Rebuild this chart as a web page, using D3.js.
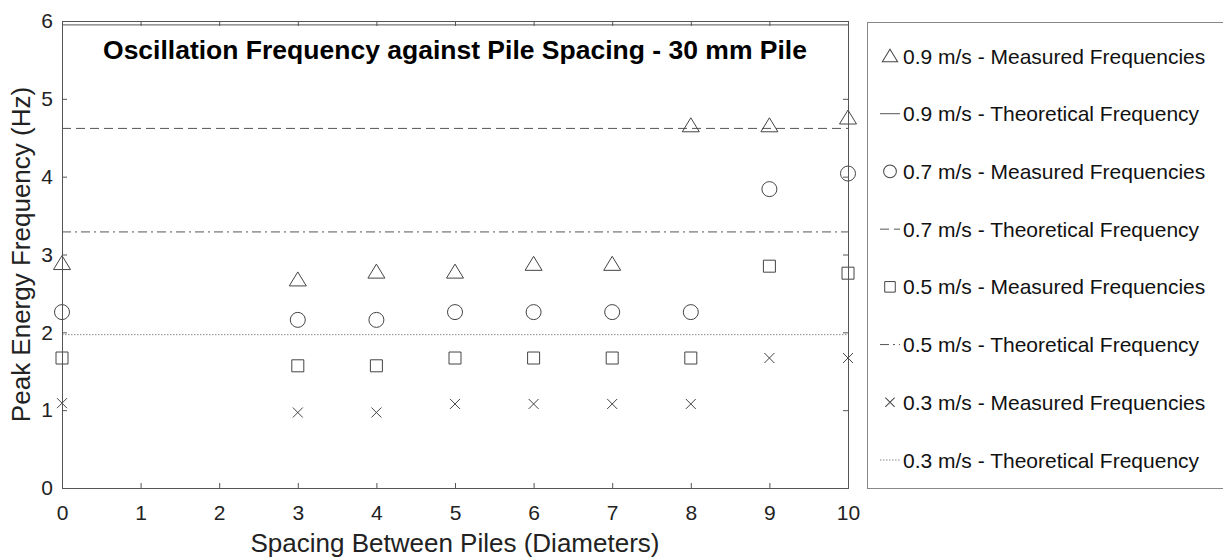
<!DOCTYPE html>
<html><head><meta charset="utf-8">
<script src="https://cdn.jsdelivr.net/npm/d3@7"></script>
<style>
html,body{margin:0;padding:0;background:#fff;}
svg{display:block;}
text{font-family:Arial,"Liberation Sans",Helvetica,sans-serif;}
</style></head>
<body><svg id="c" width="1223" height="558"></svg>
<script>
const spacing = [0, 3, 4, 5, 6, 7, 8, 9, 10];
const measured09 = [2.89, 2.68, 2.78, 2.78, 2.88, 2.88, 4.66, 4.66, 4.76];
const measured07 = [2.26, 2.16, 2.16, 2.26, 2.26, 2.26, 2.26, 3.84, 4.04];
const measured05 = [1.67, 1.57, 1.57, 1.67, 1.67, 1.67, 1.67, 2.85, 2.76];
const measured03 = [1.09, 0.97, 0.97, 1.08, 1.08, 1.08, 1.08, 1.67, 1.67];
const theoretical = [5.95, 4.62, 3.29, 1.97];
const xTicks = [0,1,2,3,4,5,6,7,8,9,10];
const yTicks = [0,1,2,3,4,5,6];
const legendLabels = [
  "0.9 m/s - Measured Frequencies","0.9 m/s - Theoretical Frequency",
  "0.7 m/s - Measured Frequencies","0.7 m/s - Theoretical Frequency",
  "0.5 m/s - Measured Frequencies","0.5 m/s - Theoretical Frequency",
  "0.3 m/s - Measured Frequencies","0.3 m/s - Theoretical Frequency"];
const titleText = "Oscillation Frequency against Pile Spacing - 30 mm Pile";

const svg = d3.select("#c");
const L=62, R=848, T=21, B=488;
const x = d3.scaleLinear().domain([0,10]).range([L,R]);
const y = d3.scaleLinear().domain([0,6]).range([B,T]);
const axisCol = "#555", markCol="#444";

function markerPath(type){
  const p = d3.path();
  if(type==="tri"){ p.moveTo(0,-7.5); p.lineTo(8.5,6.5); p.lineTo(-8.5,6.5); p.closePath(); }
  else if(type==="circ"){ p.moveTo(7.5,0); p.arc(0,0,7.5,0,2*Math.PI); }
  else if(type==="sq"){ p.rect(-6,-6,12,12); }
  else if(type==="x"){ p.moveTo(-5,-5); p.lineTo(5,5); p.moveTo(5,-5); p.lineTo(-5,5); }
  return p.toString();
}
const dashes = [null, "9,5", "9,4,2,4", "1.5,1.5"];

const plot = svg.append("g");
theoretical.forEach((v,i)=>{
  plot.append("line").attr("x1",x(0)).attr("x2",x(10)).attr("y1",y(v)).attr("y2",y(v))
    .attr("stroke", i===3?"#888":"#555").attr("stroke-width",1)
    .attr("stroke-dasharray", dashes[i]);
});
const series = [[measured09,"tri"],[measured07,"circ"],[measured05,"sq"],[measured03,"x"]];
series.forEach(([vals,type])=>{
  plot.selectAll(null).data(vals).enter().append("path")
    .attr("d", markerPath(type))
    .attr("transform",(d,i)=>`translate(${x(spacing[i])},${y(d)})`)
    .attr("fill","none").attr("stroke",markCol).attr("stroke-width",1);
});

const tl=5;
const gx = svg.append("g").attr("transform",`translate(0,${B})`)
  .call(d3.axisBottom(x).tickValues(xTicks).tickSize(-tl).tickPadding(17).tickFormat(d3.format("d")));
const gxt = svg.append("g").attr("transform",`translate(0,${T})`)
  .call(d3.axisTop(x).tickValues(xTicks).tickSize(-tl).tickFormat(""));
const gy = svg.append("g").attr("transform",`translate(${L},0)`)
  .call(d3.axisLeft(y).tickValues(yTicks).tickSize(-tl).tickPadding(9).tickFormat(d3.format("d")));
const gyr = svg.append("g").attr("transform",`translate(${R},0)`)
  .call(d3.axisRight(y).tickValues(yTicks).tickSize(-tl).tickFormat(""));
[gx,gxt,gy,gyr].forEach(g=>{
  g.select(".domain").attr("stroke",axisCol);
  g.selectAll(".tick line").attr("stroke",axisCol);
  g.selectAll("text").attr("font-size",21).attr("fill","#222")
   .attr("font-family","Arial, 'Liberation Sans', sans-serif");
});
gx.selectAll(".tick text").attr("dy","0.71em");

svg.append("text").attr("x",(L+R)/2).attr("y",552).attr("text-anchor","middle")
  .attr("font-size",26).attr("fill","#222").text("Spacing Between Piles (Diameters)");
svg.append("text").attr("transform",`translate(29.5,${(T+B)/2}) rotate(-90)`)
  .attr("text-anchor","middle").attr("font-size",26).attr("fill","#222")
  .text("Peak Energy Frequency (Hz)");
svg.append("text").attr("x",(L+R)/2).attr("y",59).attr("text-anchor","middle")
  .attr("font-size",26.5).attr("font-weight","bold").attr("fill","#000").text(titleText);

const lg = svg.append("g");
lg.append("rect").attr("x",867.5).attr("y",22.5).attr("width",360).attr("height",466)
  .attr("fill","#fff").attr("stroke","#888").attr("stroke-width",1);
const rowY = d3.scalePoint().domain(d3.range(8)).range([56,460]);
const legTypes = ["tri",0,"circ",1,"sq",2,"x",3];
legTypes.forEach((t,i)=>{
  const cy = rowY(i);
  if(typeof t==="string"){
    const s = t==="tri"?0.9:t==="circ"?0.85:t==="sq"?0.88:0.93;
    lg.append("path").attr("d",markerPath(t))
      .attr("transform",`translate(890,${cy}) scale(${s})`)
      .attr("fill","none").attr("stroke",markCol).attr("stroke-width",1/s);
  } else {
    lg.append("line").attr("x1",880).attr("x2",900).attr("y1",cy).attr("y2",cy)
      .attr("stroke", t===3?"#888":"#555").attr("stroke-dasharray",dashes[t]);
  }
  lg.append("text").attr("x",903).attr("y",cy).attr("dy","0.36em")
    .attr("font-size",21).attr("fill","#111").text(legendLabels[i]);
});
</script></body></html>
